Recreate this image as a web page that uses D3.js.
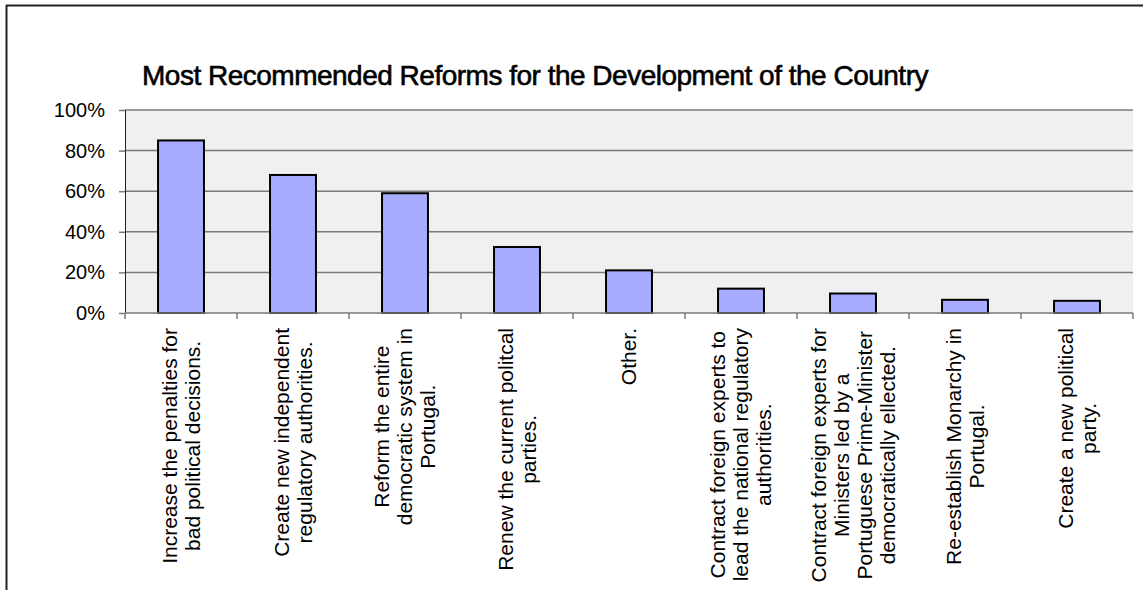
<!DOCTYPE html>
<html>
<head>
<meta charset="utf-8">
<script src="https://cdn.jsdelivr.net/npm/d3@7"></script>
<style>
  body { margin: 0; background: #fff; }
  svg { display: block; font-family: "Liberation Sans", Arial, sans-serif; }
</style>
</head>
<body>
<svg id="chart" width="1145" height="590"></svg>
<script>
// chart data
var chartTitle = "Most Recommended Reforms for the Development of the Country";
var categories = [
  "Increase the penalties for\nbad political decisions.",
  "Create new independent\nregulatory authorities.",
  "Reform the entire\ndemocratic system in\nPortugal.",
  "Renew the current politcal\nparties.",
  "Other.",
  "Contract foreign experts to\nlead the national regulatory\nauthorities.",
  "Contract foreign experts for\nMinisters led by a\nPortuguese Prime-Minister\ndemocratically ellected.",
  "Re-establish Monarchy in\nPortugal.",
  "Create a new political\nparty."
];
var values = [0.85, 0.68, 0.59, 0.325, 0.21, 0.12, 0.096, 0.065, 0.06];
var yTicks = [0, 0.2, 0.4, 0.6, 0.8, 1];

var svg = d3.select("#chart");

// plot area
var plot = {left: 125, right: 1133, top: 110, bottom: 313};

// chart frame (only top and left edges are visible)
svg.append("line").attr("x1", 6).attr("x2", 1143).attr("y1", 5.5).attr("y2", 5.5)
  .attr("stroke", "#222").attr("stroke-width", 2);
svg.append("line").attr("x1", 6.5).attr("x2", 6.5).attr("y1", 5).attr("y2", 590)
  .attr("stroke", "#222").attr("stroke-width", 2);

// title (regular face with a thin outline to get a medium weight)
svg.append("text")
  .attr("x", 535).attr("y", 85)
  .attr("text-anchor", "middle")
  .style("font-size", "28px")
  .style("letter-spacing", "-0.5px")
  .attr("stroke", "#000").attr("stroke-width", 0.6)
  .text(chartTitle);

var x = d3.scaleBand()
  .domain(d3.range(categories.length))
  .range([plot.left, plot.right])
  .paddingInner(0.59)
  .paddingOuter(0.295);

var y = d3.scaleLinear().domain([0, 1]).range([plot.bottom, plot.top]);

// background
svg.append("rect")
  .attr("x", plot.left).attr("y", plot.top)
  .attr("width", plot.right - plot.left).attr("height", plot.bottom - plot.top)
  .attr("fill", "#f0f0f0");

// gridlines
svg.append("g").selectAll("line")
  .data(yTicks.filter(function(d) { return d > 0; }))
  .enter().append("line")
  .attr("x1", plot.left).attr("x2", plot.right)
  .attr("y1", function(d) { return y(d); }).attr("y2", function(d) { return y(d); })
  .attr("stroke", "#7a7a7a").attr("stroke-width", 1.5);

// y axis
var yAxis = svg.append("g")
  .attr("transform", "translate(" + plot.left + ",0)")
  .call(d3.axisLeft(y).tickValues(yTicks).tickSize(6).tickPadding(14)
    .tickFormat(function(d) { return Math.round(d * 100) + "%"; }));
yAxis.select(".domain").attr("stroke", "#222").attr("stroke-width", 1);
yAxis.selectAll(".tick line").attr("stroke", "#7a7a7a").attr("stroke-width", 1.5);
yAxis.selectAll(".tick text").style("font-size", "20px").attr("fill", "#000");

// bars
svg.append("g").selectAll("rect")
  .data(values)
  .enter().append("rect")
  .attr("x", function(d, i) { return x(i); })
  .attr("y", function(d) { return y(d); })
  .attr("width", x.bandwidth())
  .attr("height", function(d) { return y(0) - y(d); })
  .attr("fill", "#a9acfe")
  .attr("stroke", "#000")
  .attr("stroke-width", 2);

// x axis line and ticks at category boundaries
svg.append("line")
  .attr("x1", plot.left).attr("x2", plot.right)
  .attr("y1", plot.bottom).attr("y2", plot.bottom)
  .attr("stroke", "#7a7a7a").attr("stroke-width", 1.5);
var step = x.step();
svg.append("g").selectAll("line")
  .data(d3.range(categories.length + 1))
  .enter().append("line")
  .attr("x1", function(i) { return plot.left + i * step; })
  .attr("x2", function(i) { return plot.left + i * step; })
  .attr("y1", plot.bottom).attr("y2", plot.bottom + 6)
  .attr("stroke", "#7a7a7a").attr("stroke-width", 1.5);

// rotated category labels, lines centred, block ending near the axis
var lineH = 23;
var labelTop = 328;
categories.forEach(function(label, i) {
  var lines = label.split("\n");
  var cx = x(i) + x.bandwidth() / 2;
  var g = svg.append("g")
    .attr("transform", "translate(" + cx + "," + labelTop + ") rotate(-90)");
  var texts = g.selectAll("text").data(lines).enter().append("text")
    .attr("text-anchor", "middle")
    .attr("dy", "0.35em")
    .attr("y", function(d, j) { return (j - (lines.length - 1) / 2) * lineH; })
    .style("font-size", "21px")
    .text(function(d) { return d; });
  var maxW = d3.max(texts.nodes(), function(n) { return n.getComputedTextLength(); });
  texts.attr("x", -maxW / 2);
});
</script>
</body>
</html>
